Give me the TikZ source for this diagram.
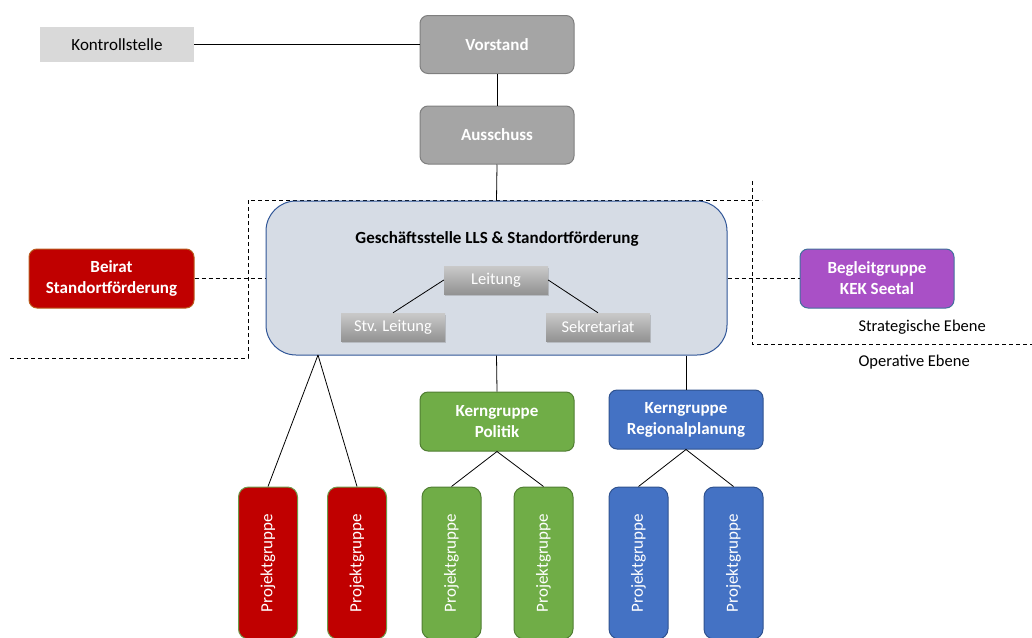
\documentclass[tikz,border=0pt]{standalone}
\usepackage{fontspec}
\setmainfont{Carlito}
\usetikzlibrary{shadows}
\definecolor{grayfill}{HTML}{A5A5A5}
\definecolor{grayline}{HTML}{7F7F7F}
\definecolor{kontroll}{HTML}{D9D9D9}
\definecolor{gsfill}{HTML}{D6DCE5}
\definecolor{gsline}{HTML}{2F5597}
\definecolor{redfill}{HTML}{C00000}
\definecolor{redline}{HTML}{B85C1E}
\definecolor{purplefill}{HTML}{A950C6}
\definecolor{purpleline}{HTML}{41719C}
\definecolor{greenfill}{HTML}{70AD47}
\definecolor{greenline}{HTML}{507E32}
\definecolor{bluefill}{HTML}{4472C4}
\definecolor{blueline}{HTML}{2F528F}
\definecolor{pgborder}{HTML}{6E9A4A}
\tikzset{
  box/.style={draw, line width=1pt, rounded corners=8pt, minimum width=154pt, minimum height=58pt,
    inner sep=0pt, align=center, text=white, font=\fontsize{17}{21}\selectfont\bfseries},
  graybox/.style={box, fill=grayfill, draw=grayline},
  smallbox/.style={inner sep=0pt, minimum width=104pt, minimum height=28pt, text=white,
    font=\fontsize{16.5}{19}\selectfont, top color=gray!42, bottom color=gray!85,
    drop shadow={shadow xshift=1pt, shadow yshift=-2pt, opacity=0.35}},
  pg/.style={draw, line width=1pt, rounded corners=10pt, minimum width=59pt, minimum height=152pt,
    inner sep=0pt, text=white, font=\fontsize{17}{21}\selectfont},
  conn/.style={draw=black, line width=0.8pt},
  dashline/.style={draw=black, line width=0.8pt, dash pattern=on 4pt off 3pt},
}
\begin{document}
\begin{tikzpicture}[x=1pt,y=-1pt]
\useasboundingbox (0,0) rectangle (1032,637);
\clip (0,0) rectangle (1032,637);
% dashed frame lines
\draw[dashline] (10,358) -- (248,358) -- (248,200) -- (762,200);
\draw[dashline] (752,181) -- (752,344) -- (1032,344);

% top
\node[fill=kontroll, minimum width=154pt, minimum height=35pt, inner sep=0pt,
  font=\fontsize{17}{21}\selectfont] (kontroll) at (117,44.5) {Kontrollstelle};
\node[graybox] (vorstand) at (497,44.5) {Vorstand};
\node[graybox] (ausschuss) at (497,135) {Ausschuss};

% Geschaeftsstelle
\node[draw=gsline, fill=gsfill, line width=1pt, rounded corners=30pt, minimum width=461pt,
  minimum height=154pt, inner sep=0pt] (gs) at (496.5,278) {};
\node[font=\fontsize{17}{21}\selectfont\bfseries] (gstitle) at (497,239) {Geschäftsstelle LLS \& Standortförderung};
\node[smallbox] (leitung) at (496,280) {Leitung};
\node[smallbox] (stv) at (393,327) {Stv. Leitung};
\node[smallbox] (sekr) at (598,327) {Sekretariat};
\draw[conn] (leitung.west) -- (stv.north);
\draw[conn] (leitung.east) -- (sekr.north);

% side boxes
\node[box, fill=redfill, draw=redline, minimum width=165pt, minimum height=59pt] (beirat) at (111.5,278.5) {Beirat\\Standortförderung};
\node[box, fill=purplefill, draw=purpleline, minimum width=154pt, minimum height=59pt] (begleit) at (877,278.5) {Begleitgruppe\\KEK Seetal};
\draw[dashline] (beirat.east) -- (gs.west |- beirat.east);
\draw[dashline] (gs.east |- begleit.west) -- (begleit.west);

\node[anchor=west, font=\fontsize{16.5}{19}\selectfont] (strat) at (855,327) {Strategische Ebene};
\node[anchor=west, font=\fontsize{16.5}{19}\selectfont] (oper) at (855,362) {Operative Ebene};

% connectors top
\draw[conn] (kontroll.east) -- (vorstand.west);
\draw[conn] (vorstand.south) -- (ausschuss.north);
\draw[conn] (ausschuss.south) -- (gs.north);

% Kerngruppen
\node[box, fill=greenfill, draw=greenline, minimum height=59pt] (kp) at (497,421.5) {Kerngruppe\\Politik};
\node[box, fill=bluefill, draw=blueline, minimum height=59pt] (kr) at (686,419.5) {Kerngruppe\\Regionalplanung};
\draw[conn] (gs.south) -- (kp.north);
\draw[conn] (kr.north |- gs.south) -- (kr.north);

% Projektgruppen
\node[pg, fill=redfill, draw=pgborder] (p1) at (268,563) {\rotatebox{90}{Projektgruppe}};
\node[pg, fill=redfill, draw=pgborder] (p2) at (357,563) {\rotatebox{90}{Projektgruppe}};
\node[pg, fill=greenfill, draw=greenline] (p3) at (451.5,563) {\rotatebox{90}{Projektgruppe}};
\node[pg, fill=greenfill, draw=greenline] (p4) at (543.5,563) {\rotatebox{90}{Projektgruppe}};
\node[pg, fill=bluefill, draw=blueline] (p5) at (638.5,563) {\rotatebox{90}{Projektgruppe}};
\node[pg, fill=bluefill, draw=blueline] (p6) at (733.5,563) {\rotatebox{90}{Projektgruppe}};

\coordinate (gsb) at (318,355);
\draw[conn] (gsb) -- (p1.north);
\draw[conn] (gsb) -- (p2.north);
\draw[conn] (kp.south) -- (p3.north);
\draw[conn] (kp.south) -- (p4.north);
\draw[conn] (kr.south) -- (p5.north);
\draw[conn] (kr.south) -- (p6.north);
\end{tikzpicture}
\end{document}
